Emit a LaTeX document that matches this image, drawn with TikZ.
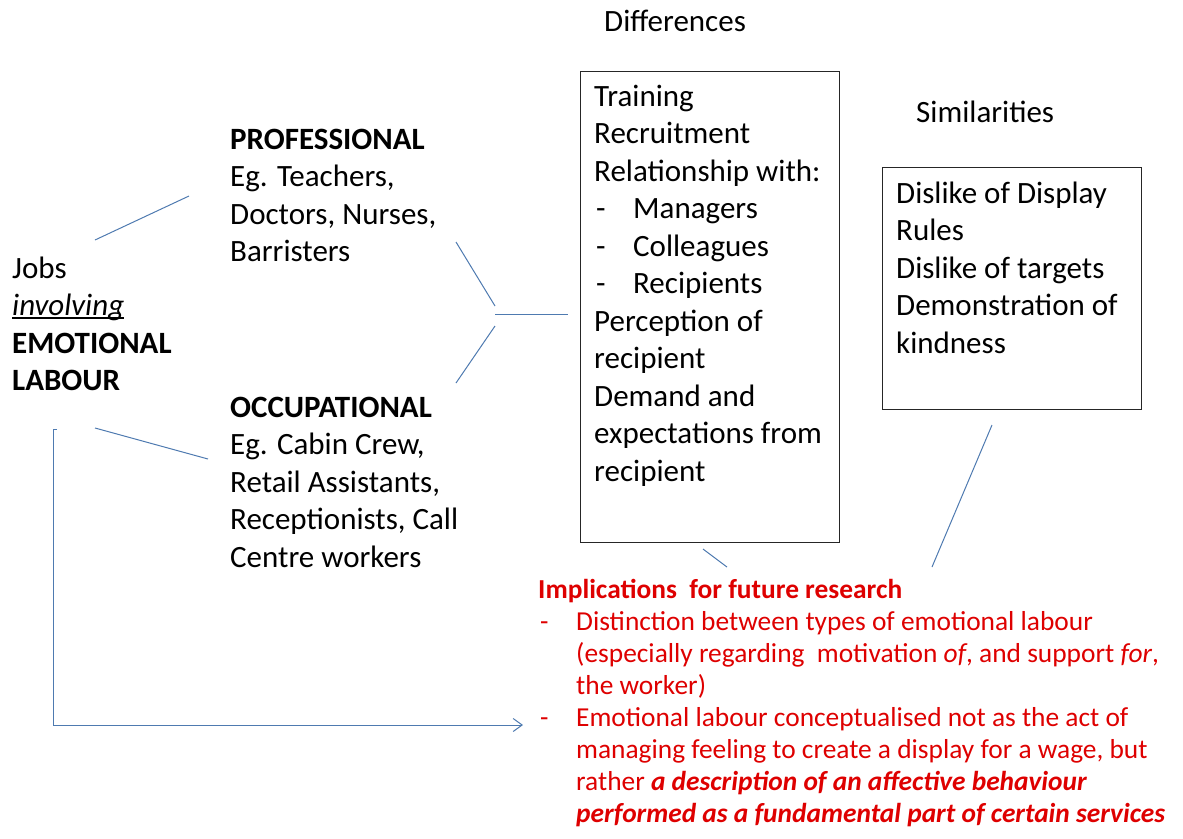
\documentclass[tikz,border=0pt]{standalone}
\usepackage{fontspec}
\setmainfont{Carlito}
\usetikzlibrary{arrows.meta, positioning}

\definecolor{linkblue}{RGB}{78,122,176}
\definecolor{notered}{RGB}{222,0,0}

\newcommand{\bigtext}{\fontsize{31}{37.5}\selectfont}
\newcommand{\redtext}{\fontsize{27.4}{32}\selectfont}
\newcommand{\dashitem}[1][38pt]{\makebox[#1][l]{\hspace{2pt}-}}
\newcommand{\lineunder}[1]{\leavevmode\setbox0\hbox{#1}\rlap{\rule[-3.5pt]{\wd0}{1.8pt}}\box0}

\begin{document}
\begin{tikzpicture}[x=1pt, y=-1pt,
  txt/.style={anchor=north west, inner sep=0pt, align=left, font=\bigtext},
  listbox/.style={draw=black!85, line width=1.2pt, anchor=north west, inner sep=0pt},
  link/.style={draw=linkblue, line width=1pt}]
  \useasboundingbox (0,0) rectangle (1183,838);

  % headings
  \node[txt] (difflabel) at (604,4.75) {\strut Differences};
  \node[txt] (simlabel) at (916,95.75) {\strut Similarities};

  % the two boxes and their lists
  \node[listbox, minimum width=259pt, minimum height=471pt] (diffbox) at (580,71) {};
  \node[txt, below right=8.75pt and 14pt of diffbox.north west] (difftext) {\strut Training\\
    Recruitment\\
    Relationship with:\\
    \dashitem[39pt]Managers\\
    \dashitem[39pt]Colleagues\\
    \dashitem[39pt]Recipients\\
    Perception of\\
    recipient\\
    Demand and\\
    expectations from\\
    recipient};

  \node[listbox, minimum width=259pt, minimum height=242pt] (simbox) at (882,167) {};
  \node[txt, below right=9.75pt and 14pt of simbox.north west] (simtext) {\strut Dislike of Display\\
    Rules\\
    Dislike of targets\\
    Demonstration of\\
    kindness};

  % job groups
  \node[txt] (jobs) at (12,251.75) {\strut Jobs\\
    \lineunder{\textit{involving}}\\
    \textbf{EMOTIONAL}\\
    \textbf{LABOUR}};
  \node[txt] (prof) at (230,122.75) {\strut\textbf{PROFESSIONAL}\\
    Eg. Teachers,\\
    Doctors, Nurses,\\
    Barristers};
  \node[txt] (occ) at (230,390.75) {\strut\textbf{OCCUPATIONAL}\\
    Eg. Cabin Crew,\\
    Retail Assistants,\\
    Receptionists, Call\\
    Centre workers};

  % research notes
  \node[txt, font=\redtext, text=notered] (notes) at (538,575.6) {\strut\textbf{Implications\ \ for future research}\\
    \dashitem Distinction between types of emotional labour\\
    \hspace*{38pt}(especially regarding\ \ motivation \textit{of}, and support \textit{for},\\
    \hspace*{38pt}the worker)\\
    \dashitem Emotional labour conceptualised not as the act of\\
    \hspace*{38pt}managing feeling to create a display for a wage, but\\
    \hspace*{38pt}rather \textbf{\textit{a description of an affective behaviour}}\\
    \hspace*{38pt}\textbf{\textit{performed as a fundamental part of certain services}}};

  % connector ends
  \coordinate (jobsup) at (95,240);
  \coordinate (profin) at (189,196);
  \coordinate (jobsdown) at (95,428);
  \coordinate (occin) at (208,459);
  \coordinate (profout) at (456,242);
  \coordinate (occout) at (456,383);
  \coordinate (fork) at (495,314);
  \coordinate (diffin) at (568,314);
  \coordinate (diffout) at (703,549);
  \coordinate (simout) at (992,425);
  \coordinate (notesa) at (727,567);
  \coordinate (notesb) at (932,567);
  \coordinate (loopstart) at (57,429);
  \coordinate (loopend) at (523,725);

  \draw[link] (jobsup) -- (profin);
  \draw[link] (jobsdown) -- (occin);
  \draw[link] (profout) -- ([yshift=8pt]fork);
  \draw[link] (occout) -- ([yshift=-12pt]fork);
  \draw[link] (fork) -- (diffin);
  \draw[link] (diffout) -- (notesa);
  \draw[link] (simout) -- (notesb);
  \draw[link, -{Straight Barb[length=9pt, width=13pt]}] (loopstart) -- ++(-4,0) |- (loopend);
\end{tikzpicture}
\end{document}
